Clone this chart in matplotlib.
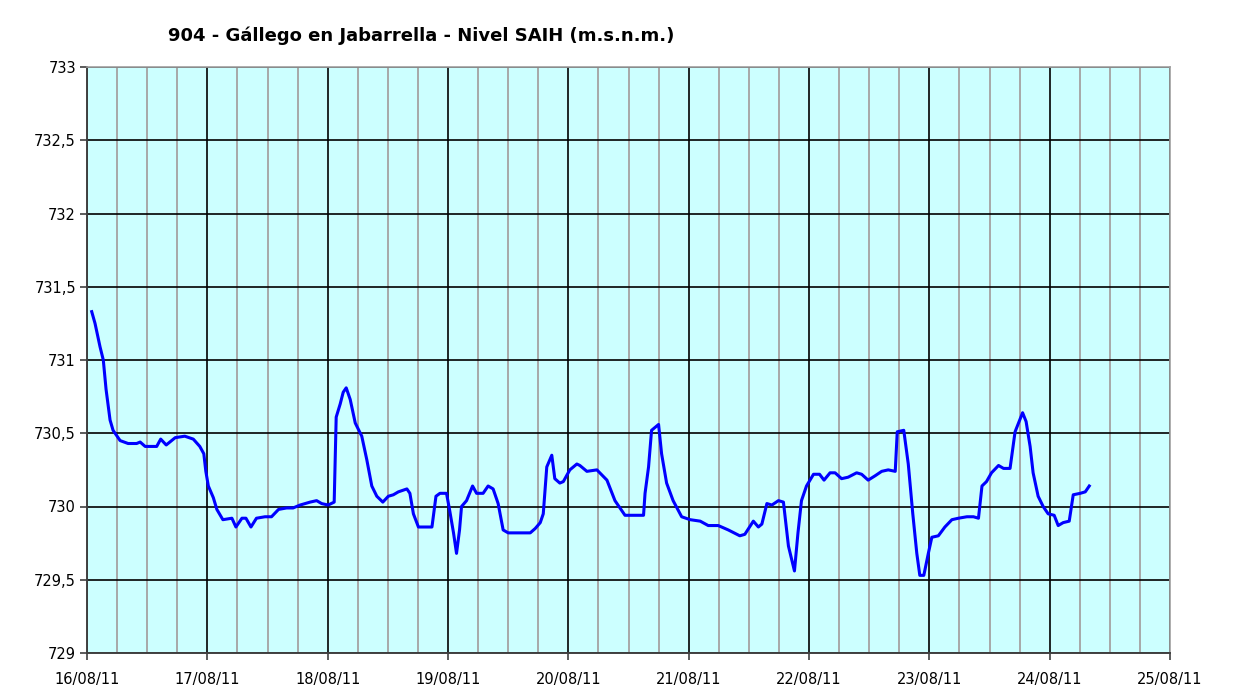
import matplotlib
matplotlib.use("Agg")
import matplotlib.pyplot as plt
import matplotlib.dates as mdates
from matplotlib.ticker import FuncFormatter, MultipleLocator
import pandas as pd

# Data: hours since 16/08/11 00:00 and level (m.s.n.m.)
hours = [0.94, 1.6, 2.6, 3.25, 3.8, 4.6, 5.2, 6.6, 8.2, 9.9, 10.6, 11.6, 13.9, 14.7, 15.8,
         17.6, 19.5, 21.2, 22.5, 23.3, 23.7, 24.2, 25.2, 25.9, 27.1, 28.9, 29.7, 30.9, 31.7,
         32.7, 33.8, 35.5, 36.8, 38.2, 39.8, 41.1, 42.5, 44.5, 45.8, 46.8, 48.1, 49.3, 49.5,
         49.7, 50.5, 51.1, 51.7, 52.5, 53.5, 54.8, 55.8, 56.8, 57.8, 59.0, 60.1, 61.1, 62.1,
         63.8, 64.4, 65.1, 66.1, 68.8, 69.6, 70.4, 71.7, 72.3, 73.1, 73.7, 74.3, 74.7, 75.7,
         76.9, 77.7, 79.0, 80.0, 81.0, 82.0, 83.0, 84.0, 88.4, 89.4, 90.4, 91.0, 91.7, 92.7,
         93.3, 94.3, 95.0, 96.3, 97.7, 98.3, 99.7, 101.7, 103.7, 105.3, 107.3, 111.0, 111.3,
         112.0, 112.6, 114.0, 114.6, 115.6, 116.9, 118.6, 120.3, 122.3, 123.9, 125.9, 127.9,
         130.2, 131.2, 132.9, 133.9, 134.6, 135.6, 136.6, 137.9, 138.9, 139.9, 141.1, 141.8,
         142.5, 143.5, 144.9, 146.1, 147.0, 148.2, 149.2, 150.5, 151.8, 153.5, 154.5, 155.8,
         157.2, 158.5, 159.8, 161.2, 161.6, 162.9, 163.8, 164.7, 165.5, 166.1, 166.9, 167.8,
         168.5, 169.8, 171.1, 172.5, 173.8, 175.5, 176.8, 177.8, 178.5, 179.4, 180.4, 181.8,
         182.8, 184.1, 184.7, 185.1, 185.9, 186.6, 187.3, 188.1, 188.7, 189.7, 190.7, 191.7,
         192.9, 193.7, 194.7, 195.9, 196.7, 198.1, 199.1, 199.9]
level = [731.33, 731.25, 731.09, 731.00, 730.80, 730.59, 730.52, 730.45, 730.43, 730.43, 730.44,
         730.41, 730.41, 730.46, 730.42, 730.47, 730.48, 730.46, 730.41, 730.36, 730.24, 730.14,
         730.06, 729.98, 729.91, 729.92, 729.86, 729.92, 729.92, 729.86, 729.92, 729.93, 729.93,
         729.98, 729.99, 729.99, 730.01, 730.03, 730.04, 730.02, 730.01, 730.03, 730.32, 730.61,
         730.70, 730.78, 730.81, 730.73, 730.57, 730.48, 730.32, 730.14, 730.07, 730.03, 730.07,
         730.08, 730.10, 730.12, 730.09, 729.95, 729.86, 729.86, 730.07, 730.09, 730.09, 729.98,
         729.82, 729.68, 729.84, 730.00, 730.04, 730.14, 730.09, 730.09, 730.14, 730.12, 730.02,
         729.84, 729.82, 729.82, 729.85, 729.89, 729.95, 730.27, 730.35, 730.19, 730.16, 730.17,
         730.25, 730.29, 730.28, 730.24, 730.25, 730.18, 730.04, 729.94, 729.94, 730.09, 730.27,
         730.52, 730.56, 730.36, 730.16, 730.04, 729.93, 729.91, 729.90, 729.87, 729.87, 729.84,
         729.80, 729.81, 729.90, 729.86, 729.88, 730.02, 730.01, 730.04, 730.03, 729.73, 729.56,
         729.82, 730.04, 730.14, 730.22, 730.22, 730.18, 730.23, 730.23, 730.19, 730.20, 730.23,
         730.22, 730.18, 730.21, 730.24, 730.25, 730.24, 730.51, 730.52, 730.29, 729.95, 729.68,
         729.53, 729.53, 729.68, 729.79, 729.80, 729.86, 729.91, 729.92, 729.93, 729.93, 729.92,
         730.14, 730.17, 730.23, 730.28, 730.26, 730.26, 730.41, 730.51, 730.58, 730.64, 730.58,
         730.41, 730.23, 730.07, 730.00, 729.95, 729.94, 729.87, 729.89, 729.90, 730.08, 730.09,
         730.10, 730.14]

title = "904 - Gállego en Jabarrella - Nivel SAIH (m.s.n.m.)"
start = pd.Timestamp("2011-08-16 00:00")
end = pd.Timestamp("2011-08-25 00:00")
times = [start + pd.Timedelta(hours=h) for h in hours]

fig = plt.figure(figsize=(12.51, 6.95), dpi=100, facecolor="white")
ax = fig.add_axes([87/1251, 1-653/695, (1170-87)/1251, (653-67)/695])
ax.set_facecolor("#CCFFFF")

ax.plot(times, level, color="#0000FF", lw=2.2, zorder=5, solid_joinstyle="round")

ax.set_xlim(start, end)
ax.set_ylim(729, 733)
ax.yaxis.set_major_locator(MultipleLocator(0.5))
ax.yaxis.set_major_formatter(FuncFormatter(lambda v, p: (f"{v:g}").replace(".", ",")))
ax.xaxis.set_major_locator(mdates.DayLocator())
ax.xaxis.set_minor_locator(mdates.HourLocator(byhour=[6, 12, 18]))
ax.xaxis.set_major_formatter(mdates.DateFormatter("%d/%m/%y"))

ax.grid(which="minor", axis="x", color="#A8A8A8", lw=1.4, zorder=1)
ax.grid(which="major", axis="x", color="#000000", lw=1.2, zorder=2)
ax.grid(which="major", axis="y", color="#000000", lw=1.2, zorder=2)
ax.set_axisbelow(True)

for s in ["top", "right"]:
    ax.spines[s].set_color("#A0A0A0")
    ax.spines[s].set_linewidth(1.2)
for s in ["left", "bottom"]:
    ax.spines[s].set_color("#404040")
    ax.spines[s].set_linewidth(1.4)

ax.tick_params(axis="both", which="major", direction="out", length=5, width=1.2,
               color="#404040", labelsize=10.5, labelcolor="black")
ax.tick_params(axis="x", which="minor", length=0)
ax.tick_params(axis="x", pad=9)
ax.tick_params(axis="y", pad=3)

fig.text(421/1251, 1-36/695, title, ha="center", va="center", fontsize=13,
         fontweight="bold", color="black")

fig.savefig("out.png", dpi=100, facecolor="white")
